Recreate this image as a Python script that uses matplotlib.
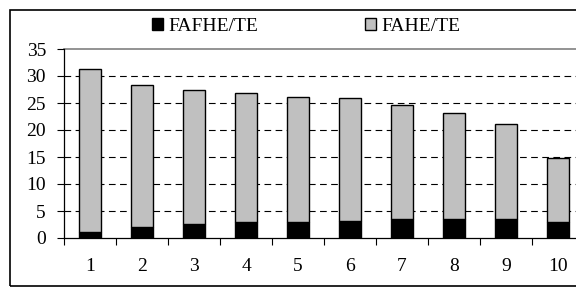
import matplotlib
matplotlib.use("Agg")
import matplotlib.pyplot as plt
from matplotlib.patches import Rectangle
import numpy as np

categories = ["1", "2", "3", "4", "5", "6", "7", "8", "9", "10"]
fafhe_te = [1.1, 2.0, 2.6, 2.9, 2.9, 3.2, 3.5, 3.5, 3.5, 2.9]
fahe_te = [30.2, 26.4, 24.9, 23.9, 23.2, 22.8, 21.1, 19.6, 17.6, 12.0]
yticks = [0, 5, 10, 15, 20, 25, 30, 35]

plt.rcParams['font.family'] = ['Liberation Serif', 'DejaVu Serif']

fig = plt.figure(figsize=(5.76, 2.87), dpi=100)
W, H = 576, 287
ax = fig.add_axes([64 / W, 1 - 238 / H, 520 / W, (238 - 49) / H])

x = np.arange(1, len(categories) + 1)
b1 = ax.bar(x, fafhe_te, width=0.41, color='black', edgecolor='black', linewidth=1.0,
            label='FAFHE/TE', zorder=3)
b2 = ax.bar(x, fahe_te, bottom=fafhe_te, width=0.41, color='#c0c0c0', edgecolor='black',
            linewidth=1.0, label='FAHE/TE', zorder=3)

ax.set_xlim(0.5, 10.5)
ax.set_ylim(0, 35)
ax.set_yticks(yticks)
ax.set_xticks(x)
ax.set_xticklabels(categories)
ax.set_xticks(np.arange(0.5, 11, 1), minor=True)
ax.tick_params(axis='x', which='major', length=0, pad=14.5, labelsize=14)
ax.tick_params(axis='x', which='minor', length=5, width=0.8, direction='out')
ax.tick_params(axis='y', length=5, width=0.8, direction='out', pad=8, labelsize=14)

for s in ['top', 'right']:
    ax.spines[s].set_visible(False)
for s in ['left', 'bottom']:
    ax.spines[s].set_linewidth(0.9)

for v in yticks[1:-1]:
    ax.axhline(v, color='black', linewidth=0.8, dashes=(6, 4), zorder=1)
ax.axhline(35, color='#808080', linewidth=1.2, zorder=1, clip_on=False)

leg = fig.legend(handles=[b1, b2], labels=['FAFHE/TE', 'FAHE/TE'], loc='center',
                 bbox_to_anchor=(0.531, 1 - 26.5 / H), ncol=2, frameon=False,
                 fontsize=14, handlelength=0.57, handleheight=0.57, handletextpad=0.26,
                 columnspacing=5.5, borderpad=0, borderaxespad=0)

fig.patches.append(Rectangle((10 / W, 1 / H), 1.2, (286 - 10) / H, transform=fig.transFigure,
                             fill=False, edgecolor='black', linewidth=1.2, clip_on=False))

fig.savefig('out.png', dpi=100)
